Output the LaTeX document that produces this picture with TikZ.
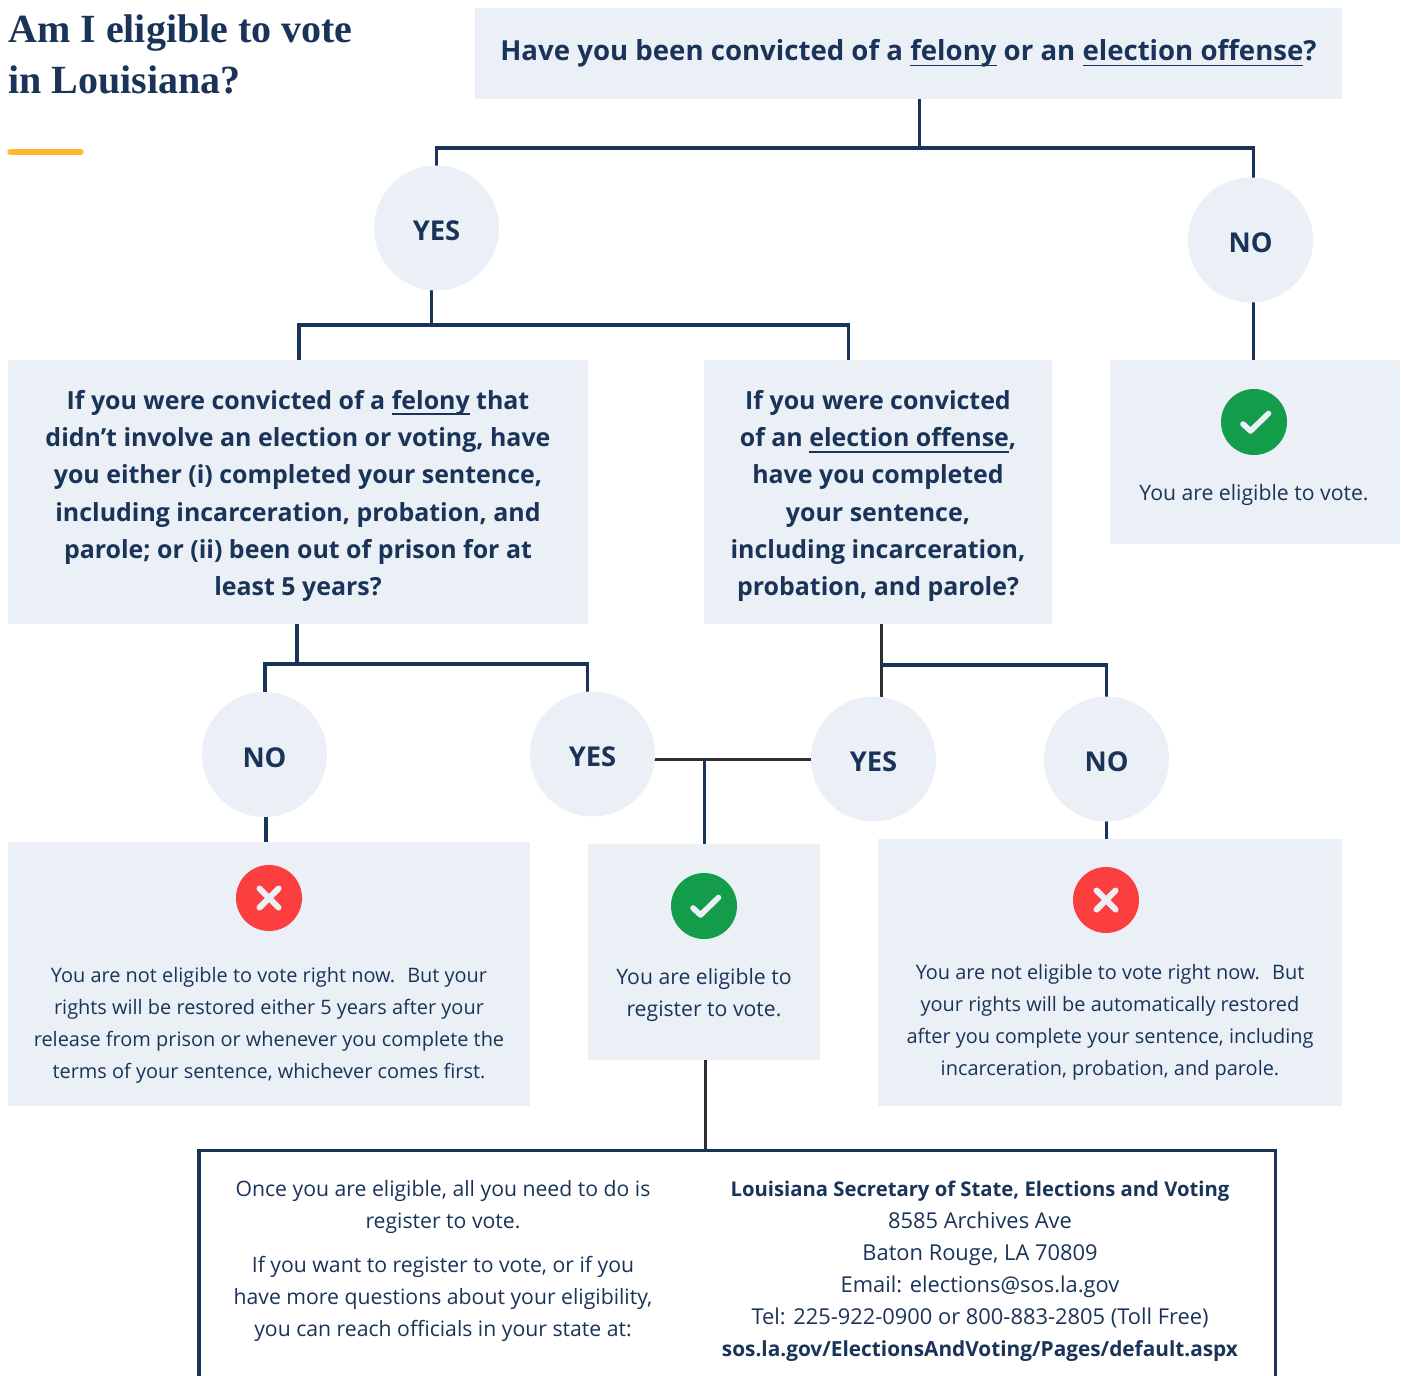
\documentclass[tikz,border=0pt]{standalone}
\usepackage{fontspec}
\setmainfont{Open Sans}
\newfontfamily\titlefont{Liberation Serif}
\usetikzlibrary{positioning,calc,fit,backgrounds}
\definecolor{navy}{HTML}{1A3358}
\definecolor{inkline}{HTML}{2E2E33}
\definecolor{pale}{HTML}{EBF0F7}
\definecolor{okgreen}{HTML}{139D4B}
\definecolor{nored}{HTML}{FB3F3F}
\definecolor{bargold}{HTML}{FFB92E}
\newcommand{\ulword}[1]{\setbox0\hbox{#1}\rlap{\rule[-4.6pt]{\wd0}{1.4pt}}\box0\relax}
\newcommand{\ans}[1]{\raisebox{-9.5pt}[0pt][0pt]{#1}}
\tikzset{
    box/.style={fill=pale,inner sep=0pt},
    head/.style={inner sep=0pt,align=center,text=navy,font=\fontsize{18.7}{28}\selectfont\bfseries},
    body/.style={inner sep=0pt,align=center,text=navy,font=\fontsize{14.95}{24}\selectfont},
    wide/.style={font=\fontsize{15.9}{24}\selectfont},
    answer/.style={circle,fill=pale,minimum size=93.75pt,inner sep=0pt,text=navy,font=\fontsize{20.5}{24}\selectfont\bfseries},
    link/.style={navy,line width=2.26pt},
    darklink/.style={inkline,line width=2.26pt},
    okicon/.pic={
        \fill[okgreen] (0,0) circle (33);
        \draw[pale,line width=4.2pt,line cap=round,line join=round] (-11,2) -- (-3.5,9) -- (14.5,-8.5);
    },
    noicon/.pic={
        \fill[nored] (0,0) circle (33);
        \draw[pale,line width=4.5pt,line cap=round] (-9.5,-9.5) -- (9.5,9.5) (-9.5,9.5) -- (9.5,-9.5);
    }
}
\begin{document}
\begin{tikzpicture}[x=0.75pt,y=-0.75pt]
    \useasboundingbox (0,0) rectangle (1401,1376);
    \clip (0,0) rectangle (1401,1376);

    \node[anchor=west,inner sep=0pt,align=left,text=navy,font=\fontsize{30}{38.25}\selectfont\titlefont\bfseries] (title) at (8,54) {Am I eligible to vote\\in Louisiana?};
    \draw[bargold,line width=4pt,line cap=round] (10,152) -- (81,152);

    % question boxes
    \node[box,fit={(475,8)(1342,99)}] (qtop) {};
    \node[head,font=\fontsize{20.7}{28}\selectfont\bfseries] (ttop) at (908.5,53) {Have you been convicted of a \ulword{felony} or an \ulword{election offense}?};
    \node[box,fit={(8,360)(588,624)}] (qfelony) {};
    \node[head] (tqfelony) at (298,496) {If you were convicted of a \ulword{felony} that\\didn’t involve an election or voting, have\\you either (i) completed your sentence,\\including incarceration, probation, and\\parole; or (ii) been out of prison for at\\least 5 years?};
    \node[box,fit={(704,360)(1052,624)}] (qoffense) {};
    \node[head] (tqoffense) at (878,496) {If you were convicted\\of an \ulword{election offense},\\have you completed\\your sentence,\\including incarceration,\\probation, and parole?};

    % answers
    \node[answer] (yestop) at (436.5,228) {\ans{YES}};
    \node[answer] (notop) at (1250.5,240) {\ans{NO}};
    \node[answer] (nofelony) at (264.5,754.5) {\ans{NO}};
    \node[answer] (yesfelony) at (592.5,754) {\ans{YES}};
    \node[answer] (yesoffense) at (873.5,759) {\ans{YES}};
    \node[answer] (nooffense) at (1106.5,759) {\ans{NO}};

    % result boxes
    \node[box,fit={(1110,360)(1400,544)}] (rvote) {};
    \node[box,fit={(8,842)(530,1106)}] (rfelony) {};
    \node[box,fit={(588,844)(820,1060)}] (rregister) {};
    \node[box,fit={(878,839)(1342,1106)}] (roffense) {};
    \pic at (1254,422) {okicon};
    \pic at (269,898) {noicon};
    \pic at (704,906) {okicon};
    \pic at (1106,900) {noicon};
    \node[body,wide] (tvote) at (1254,495) {You are eligible to vote.};
    \node[body] (tfelony) at (269,1025) {You are not eligible to vote right now.~ But your\\rights will be restored either 5 years after your\\release from prison or whenever you complete the\\terms of your sentence, whichever comes first.};
    \node[body,wide] (tregister) at (704,995) {You are eligible to\\register to vote.};
    \node[body] (toffense) at (1110,1022) {You are not eligible to vote right now.~ But\\your rights will be automatically restored\\after you complete your sentence, including\\incarceration, probation, and parole.};

    % bottom panel, runs off the page
    \node[draw=navy,line width=2.26pt,outer sep=0pt,minimum width=807pt,minimum height=187.5pt,anchor=north west] (panel) at (199,1150) {};
    \node[body,wide] (tonce) at (443,1207) {Once you are eligible, all you need to do is\\register to vote.};
    \node[body,wide] (treach) at (443,1299) {If you want to register to vote, or if you\\have more questions about your eligibility,\\you can reach officials in your state at:};
    \node[body,font=\fontsize{16.4}{24}\selectfont] (toffice) at (980,1271) {{\fontsize{15.2}{24}\selectfont\bfseries Louisiana Secretary of State, Elections and Voting}\\8585 Archives Ave\\Baton Rouge, LA 70809\\Email: elections@sos.la.gov\\Tel: 225-922-0900 or 800-883-2805 (Toll Free)\\{\fontsize{15.6}{24}\selectfont\bfseries sos.la.gov/ElectionsAndVoting/Pages/default.aspx}};

    \begin{scope}[on background layer]
        \coordinate (jtop) at (919,148);
        \coordinate (jyes) at (431,325);
        \coordinate (jfelony) at (297,664);
        \coordinate (joffense) at (881,665);
        \coordinate (jreg) at (704,759);
        \draw[link] (jtop |- qtop.south) -- (jtop);
        \draw[link] (yestop.center) |- (jtop);
        \draw[link] (jtop) -| (1253,178) -- (1253,360);
        \draw[link] (yestop.center -| jyes) -- (jyes);
        \draw[link] (qfelony.north -| 299,0) |- (jyes);
        \draw[link] (jyes) -| (848,360);
        \draw[link] (jfelony |- qfelony.south) -- (jfelony);
        \draw[link] (nofelony.center -| 265,0) |- (jfelony);
        \draw[link] (jfelony) -| (587,692);
        \draw[darklink] (joffense |- qoffense.south) -- (yesoffense.center -| joffense);
        \draw[link] (joffense) -| (nooffense.center);
        \draw[link] (nofelony.center -| 266,0) -- (rfelony.north -| 266,0);
        \draw[link] (nooffense.center) -- (nooffense.center |- roffense.north);
        \draw[darklink] (yesfelony.center |- jreg) -- (yesoffense.center |- jreg);
        \draw[link] (jreg) -- (jreg |- rregister.north);
        \draw[darklink] (rregister.south -| 705,0) -- (panel.north -| 705,0);
    \end{scope}
\end{tikzpicture}
\end{document}
